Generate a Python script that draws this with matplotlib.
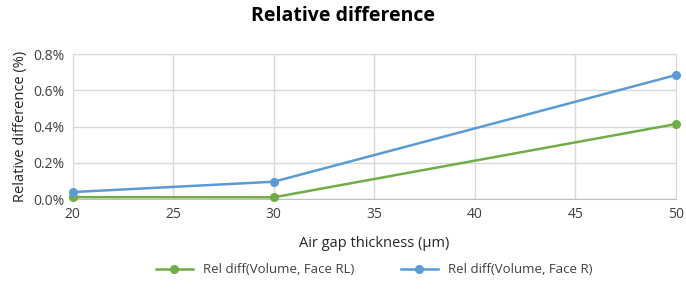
import matplotlib
matplotlib.use("Agg")
import matplotlib.pyplot as plt
from matplotlib.ticker import FuncFormatter

# data
gap_um = [20, 30, 50]
rel_rl = [0.011, 0.010, 0.414]   # %  Face RL
rel_r = [0.039, 0.096, 0.684]    # %  Face R

plt.rcParams["font.family"] = ["Open Sans", "DejaVu Sans"]

fig = plt.figure(figsize=(6.86, 2.99), dpi=100)
ax = fig.add_axes([0.106, 0.334, 0.879, 0.485])

green = "#70ad47"
blue = "#5b9bd5"
ax.plot(gap_um, rel_rl, color=green, lw=1.8, marker="o", ms=5.5,
        label="Rel diff(Volume, Face RL)", zorder=3, clip_on=False)
ax.plot(gap_um, rel_r, color=blue, lw=1.8, marker="o", ms=5.5,
        label="Rel diff(Volume, Face R)", zorder=3, clip_on=False)

ax.set_xlim(20, 50)
ax.set_ylim(0, 0.8)
ax.set_xticks(range(20, 51, 5))
ax.set_yticks([0, 0.2, 0.4, 0.6, 0.8])
ax.yaxis.set_major_formatter(FuncFormatter(lambda v, p: f"{v:.1f}%"))
ax.grid(True, color="#d9d9d9", lw=1)
ax.set_axisbelow(True)
for s in ax.spines.values():
    s.set_color("#d9d9d9")
ax.spines["bottom"].set_color("#bfbfbf")
ax.tick_params(length=0, labelsize=10, colors="#404040", pad=6)

ax.set_xlabel("Air gap thickness (µm)", fontsize=10.5, color="#262626", labelpad=10)
ax.set_ylabel("Relative difference (%)", fontsize=10.5, color="#262626", labelpad=4)
fig.suptitle("Relative difference", fontsize=14, fontweight="bold", y=0.98)

ax.legend(loc="upper center", bbox_to_anchor=(0.5, -0.36), ncol=2, frameon=False,
          fontsize=9.5, handlelength=2.8, columnspacing=3.5, labelcolor="#404040")

fig.savefig("out.png", dpi=100)
